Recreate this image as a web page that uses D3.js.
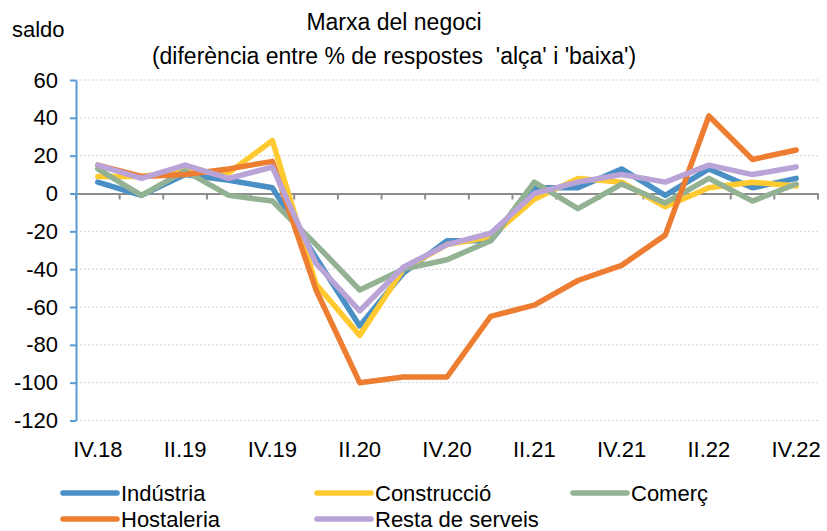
<!DOCTYPE html>
<html>
<head>
<meta charset="utf-8">
<script src="https://cdn.jsdelivr.net/npm/d3@7"></script>
<style>
  body { margin: 0; background: #fff; }
  svg { font-family: "Liberation Sans", Arial, sans-serif; }
</style>
</head>
<body>
<div id="chart"></div>
<script>
// quarters on the x axis
const quarters = ["IV.18", "I.19", "II.19", "III.19", "IV.19", "I.20", "II.20", "III.20", "IV.20",
  "I.21", "II.21", "III.21", "IV.21", "I.22", "II.22", "III.22", "IV.22"];

// series values (saldo)
const industria    = [6, -1, 10, 7, 3, -34, -70, -42, -25, -25, 3, 3, 13, -1, 13, 3, 8];
const construccio  = [9, 9, 12, 11, 28, -48, -75, -40, -27, -23, -3, 8, 6, -7, 3, 6, 4];
const comerc       = [13, -1, 12, -1, -4, -27, -51, -40, -35, -25, 6, -8, 5, -5, 8, -4, 5];
const hostaleria   = [15, 9, 10, 13, 17, -51, -100, -97, -97, -65, -59, -46, -38, -22, 41, 18, 23];
const restaServeis = [15, 8, 15, 8, 14, -37, -62, -39, -27, -21, 0, 6, 10, 6, 15, 10, 14];

const seriesNames = ["Indústria", "Construcció", "Comerç", "Hostaleria", "Resta de serveis"];
const seriesColors = ["#4A8FC5", "#FFCA30", "#93B293", "#ED7D31", "#B9A3D7"];
const seriesValues = [industria, construccio, comerc, hostaleria, restaServeis];

const yTicks = [60, 40, 20, 0, -20, -40, -60, -80, -100, -120];
const xLabelEvery = 2;

const width = 827, height = 531;
const svg = d3.select("#chart").append("svg")
  .attr("width", width)
  .attr("height", height);

const x = d3.scaleBand().domain(quarters).range([76, 818]);
const y = d3.scaleLinear().domain([-120, 60]).range([420.5, 80]);

// grid lines
svg.append("g")
  .selectAll("line")
  .data(yTicks.filter(d => d !== 0))
  .enter()
  .append("line")
  .attr("x1", 76).attr("x2", 818)
  .attr("y1", d => y(d)).attr("y2", d => y(d))
  .attr("stroke", "#d4d4d4")
  .attr("stroke-width", 1)
  .attr("stroke-dasharray", "2,2");

// x axis on zero
const xAxis = svg.append("g")
  .attr("transform", `translate(0,${y(0)})`)
  .call(d3.axisBottom(x).tickSize(0).tickFormat(""));
xAxis.select(".domain").attr("stroke", "#8c8c8c").attr("stroke-width", 2);
xAxis.selectAll(".boundary")
  .data(quarters.map((q, i) => i).concat([quarters.length]))
  .enter()
  .append("line")
  .attr("x1", i => 76 + i * x.step())
  .attr("x2", i => 76 + i * x.step())
  .attr("y1", 0).attr("y2", 6)
  .attr("stroke", "#8c8c8c")
  .attr("stroke-width", 2);

// x labels at bottom
svg.append("g")
  .selectAll("text")
  .data(quarters.filter((q, i) => i % xLabelEvery === 0))
  .enter()
  .append("text")
  .attr("x", d => x(d) + x.bandwidth() / 2)
  .attr("y", 457)
  .attr("text-anchor", "middle")
  .attr("font-size", 22)
  .attr("fill", "#000")
  .text(d => d);

// y axis
const yAxis = svg.append("g")
  .attr("transform", "translate(76,0)")
  .call(d3.axisLeft(y).tickValues(yTicks).tickFormat(d => String(d))
    .tickSize(6).tickPadding(12).tickSizeOuter(0));
yAxis.select(".domain").attr("stroke", "#5B9BD5").attr("stroke-width", 2);
yAxis.selectAll(".tick line").attr("stroke", "#5B9BD5").attr("stroke-width", 2);
yAxis.selectAll(".tick text")
  .attr("font-size", 22)
  .attr("font-family", "Liberation Sans, Arial, sans-serif")
  .attr("fill", "#000");

// lines
const line = d3.line()
  .x((d, i) => x(quarters[i]) + x.bandwidth() / 2)
  .y(d => y(d));

svg.append("g")
  .selectAll("path")
  .data(seriesValues)
  .enter()
  .append("path")
  .attr("d", line)
  .attr("fill", "none")
  .attr("stroke", (d, i) => seriesColors[i])
  .attr("stroke-width", 5.5)
  .attr("stroke-linejoin", "round")
  .attr("stroke-linecap", "round");

// titles
svg.append("text")
  .attr("x", 12).attr("y", 37)
  .attr("font-size", 22)
  .text("saldo");

svg.append("text")
  .attr("x", 394).attr("y", 30)
  .attr("text-anchor", "middle")
  .attr("font-size", 23)
  .text("Marxa del negoci");

svg.append("text")
  .attr("x", 394).attr("y", 64)
  .attr("text-anchor", "middle")
  .attr("font-size", 23)
  .attr("xml:space", "preserve")
  .text("(diferència entre % de respostes  'alça' i 'baixa')");

// legend
const legendPos = [[60, 493], [314, 493], [570, 493], [60, 519], [314, 519]];
const legend = svg.append("g")
  .selectAll("g")
  .data(seriesNames)
  .enter()
  .append("g")
  .attr("transform", (d, i) => `translate(${legendPos[i][0]},${legendPos[i][1]})`);

legend.append("line")
  .attr("x1", 3).attr("x2", 57)
  .attr("y1", 0).attr("y2", 0)
  .attr("stroke", (d, i) => seriesColors[i])
  .attr("stroke-width", 5.5)
  .attr("stroke-linecap", "round");

legend.append("text")
  .attr("x", 61).attr("y", 8)
  .attr("font-size", 22)
  .text(d => d);
</script>
</body>
</html>
